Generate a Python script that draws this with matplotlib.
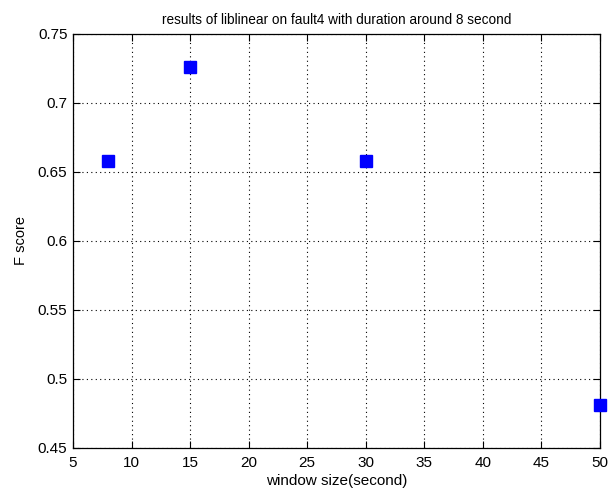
import matplotlib
matplotlib.use("Agg")
from matplotlib import pyplot as plt

plt.rcParams["font.family"] = ["Liberation Sans", "DejaVu Sans"]
plt.rcParams["font.size"] = 10.5

window_size = [8, 15, 30, 50]
f_score = [0.658, 0.726, 0.658, 0.481]

xticks = [5, 10, 15, 20, 25, 30, 35, 40, 45, 50]
yticks = [0.45, 0.5, 0.55, 0.6, 0.65, 0.7, 0.75]
ytick_labels = ["0.45", "0.5", "0.55", "0.6", "0.65", "0.7", "0.75"]

fig = plt.figure(figsize=(6.11, 4.97), dpi=100)
ax = fig.add_axes([0.1195, 0.0986, 0.8625, 0.833])

ax.plot(window_size, f_score, "s", color="#0000ff", markersize=8.5,
        markeredgecolor="#0000ff", clip_on=False, zorder=3)

ax.set_xlim(5, 50)
ax.set_ylim(0.45, 0.75)
ax.set_xticks(xticks)
ax.set_yticks(yticks)
ax.set_yticklabels(ytick_labels)
ax.grid(True, color="black", linestyle=(0, (1, 3)), linewidth=0.8)
ax.tick_params(direction="in", top=True, right=True, length=5, width=0.8,
               labelsize=11)
ax.tick_params(axis="x", pad=6)
ax.tick_params(axis="y", pad=4)
for s in ax.spines.values():
    s.set_linewidth(0.9)

ax.set_title("results of liblinear on fault4 with duration around 8 second",
             fontsize=9.8, pad=7)
ax.set_xlabel("window size(second)", fontsize=11, labelpad=3)
ax.set_ylabel("F score", fontsize=10.5, labelpad=7)

fig.savefig("out.png", dpi=100)
